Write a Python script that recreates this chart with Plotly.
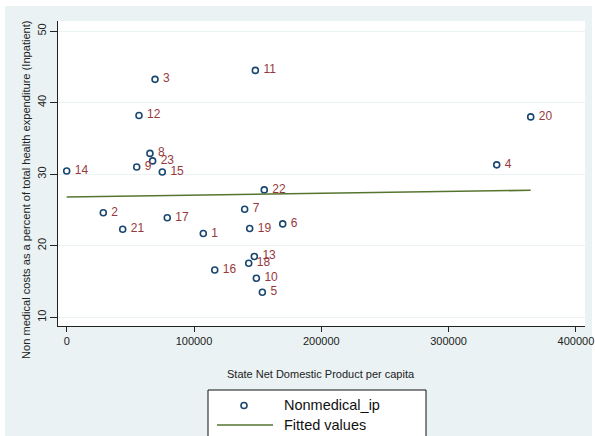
import plotly.graph_objects as go

# ---- data ----
state_id = ["1", "2", "3", "4", "5", "6", "7", "8", "9", "10", "11", "12",
            "13", "14", "15", "16", "17", "18", "19", "20", "21", "22", "23"]
sndp_pc = [107300, 28750, 69400, 337800, 153700, 169700, 139800, 65400, 55000,
           149000, 148200, 56800, 147400, 0, 75100, 116300, 79000, 143000,
           143750, 364500, 44000, 155200, 67500]
nonmedical_ip = [21.7, 24.6, 43.25, 31.3, 13.5, 23.05, 25.1, 32.9, 31.0,
                 15.46, 44.5, 38.2, 18.5, 30.45, 30.3, 16.6, 23.9, 17.55,
                 22.4, 38.0, 22.3, 27.8, 31.85]
fit_x = [0, 364500]
fit_y = [26.8, 27.75]
x_ticks = [0, 100000, 200000, 300000, 400000]
y_ticks = [10, 20, 30, 40, 50]

# ---- styling ----
NAVY = "#1a476f"
MAROON = "#97393c"
GREEN = "#55752f"
BG = "#eaf2f3"
FONT = "Liberation Sans, Arial, sans-serif"

W, H = 595, 436
L, R, T, B = 58, 585, 21, 326
PW, PH = R - L, B - T


def px(xp):
    return (xp - L) / PW


def py(yp):
    return (B - yp) / PH


fig = go.Figure()
fig.add_trace(go.Scatter(
    x=sndp_pc, y=nonmedical_ip, mode="markers+text", text=state_id,
    texttemplate=" %{text}", textposition="middle right",
    textfont=dict(family=FONT, size=12, color=MAROON),
    marker=dict(symbol="circle-open", size=6, color=NAVY, line=dict(width=1.6, color=NAVY)),
    name="Nonmedical_ip", cliponaxis=False, showlegend=False))
fig.add_trace(go.Scatter(
    x=fit_x, y=fit_y, mode="lines", line=dict(color=GREEN, width=1.6),
    name="Fitted values", showlegend=False))

shapes = [
    dict(type="rect", xref="paper", yref="paper", x0=px(5), x1=px(592), y0=py(450), y1=py(6),
         fillcolor=BG, line=dict(width=0), layer="below"),
    dict(type="rect", xref="paper", yref="paper", x0=0, x1=1, y0=0, y1=1,
         fillcolor="white", line=dict(width=0), layer="below"),
    # legend box
    dict(type="rect", xref="paper", yref="paper", x0=px(208), x1=px(426), y0=py(450), y1=py(390),
         fillcolor="white", line=dict(width=1, color="#111111")),
    dict(type="line", xref="paper", yref="paper", x0=px(217), x1=px(273), y0=py(425), y1=py(425),
         line=dict(color=GREEN, width=1.6)),
    dict(type="circle", xref="paper", yref="paper", xsizemode="pixel", ysizemode="pixel",
         xanchor=px(244), yanchor=py(405.5), x0=-3, x1=3, y0=-3, y1=3,
         line=dict(color=NAVY, width=1.6)),
]

annotations = [
    dict(text="State Net Domestic Product per capita", xref="paper", yref="paper",
         x=px(321), y=py(374), showarrow=False, xanchor="center", yanchor="middle",
         font=dict(family=FONT, size=11, color="#222222")),
    dict(text="Non medical costs as a percent of total health expenditure (Inpatient)",
         xref="paper", yref="paper", x=px(26), y=py(190), showarrow=False, textangle=-90,
         xanchor="center", yanchor="middle", font=dict(family=FONT, size=11.1, color="#222222")),
    dict(text="Nonmedical_ip", xref="paper", yref="paper", x=px(282), y=py(405.5),
         showarrow=False, xanchor="left", yanchor="middle",
         font=dict(family=FONT, size=14.5, color="#111111")),
    dict(text="Fitted values", xref="paper", yref="paper", x=px(282), y=py(425),
         showarrow=False, xanchor="left", yanchor="middle",
         font=dict(family=FONT, size=14.5, color="#111111")),
]

fig.update_layout(
    width=W, height=H, margin=dict(l=L, r=W - R, t=T, b=H - B, autoexpand=False),
    paper_bgcolor="white", plot_bgcolor="white",
    shapes=shapes, annotations=annotations, showlegend=False,
    font=dict(family=FONT, size=11, color="#222222"),
)
fig.update_xaxes(range=[-6830, 407150], tickvals=x_ticks, ticktext=[str(v) for v in x_ticks],
                 showgrid=False, zeroline=False, showline=True, linecolor="#222222", linewidth=1,
                 ticks="outside", ticklen=5, tickcolor="#222222", automargin=False,
                 tickfont=dict(family=FONT, size=11, color="#222222"))
fig.update_yaxes(range=[8.785, 51.4], tickvals=y_ticks, ticktext=[str(v) for v in y_ticks],
                 showgrid=True, gridcolor=BG, gridwidth=1, zeroline=False,
                 showline=True, linecolor="#222222", linewidth=1, automargin=False,
                 ticks="outside", ticklen=7, tickcolor="#222222", tickangle=-90,
                 tickfont=dict(family=FONT, size=11, color="#222222"))

fig.write_html(
    "out.html",
    config={"displayModeBar": False},
    post_script="document.body.style.margin='0';document.body.style.overflow='hidden';",
)
